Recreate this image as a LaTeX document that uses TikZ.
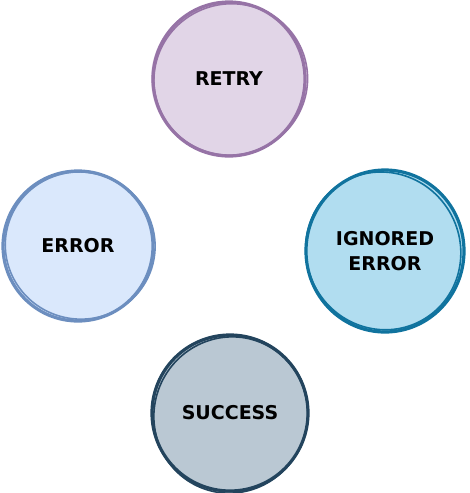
\documentclass[tikz,border=0pt]{standalone}
\usepackage{fontspec}
\setmainfont{DejaVu Sans}
\definecolor{pfill}{HTML}{E1D5E7}\definecolor{pline}{HTML}{9673A6}
\definecolor{bfill}{HTML}{DAE8FC}\definecolor{bline}{HTML}{6C8EBF}
\definecolor{cfill}{HTML}{B1DDF0}\definecolor{cline}{HTML}{10739E}
\definecolor{gfill}{HTML}{BAC8D3}\definecolor{gline}{HTML}{23445D}
\tikzset{
  state/.style={circle,minimum size=#1,inner sep=0pt,align=center,
    font=\bfseries\fontsize{19}{25}\selectfont,text=black},
  sketch/.style={line width=1.6pt},
  mainline/.style={line width=3.2pt},
}
\begin{document}
\begin{tikzpicture}[x=1pt,y=-1pt]
\useasboundingbox (0,0) rectangle (469,493);
% RETRY
\node[state=156pt,fill=pfill] (retry) at (229,79) {RETRY};
\draw[pline,mainline] (retry.center) ellipse [x radius=76,y radius=77];
\draw[pline,sketch,rotate around={20:(retry.center)}] ([xshift=1.5pt,yshift=-1pt]retry.center) ellipse [x radius=77,y radius=75.5];
% ERROR
\node[state=152pt,fill=bfill] (error) at (78,246) {ERROR};
\draw[bline,mainline] (error.center) ellipse [x radius=75,y radius=75];
\draw[bline,sketch,rotate around={-15:(error.center)}] ([xshift=2pt,yshift=1pt]error.center) ellipse [x radius=75,y radius=73.5];
% IGNORED ERROR
\node[state=160pt,fill=cfill] (ignored) at (385,251) {IGNORED\\ERROR};
\draw[cline,mainline] (ignored.center) ellipse [x radius=79,y radius=81];
\draw[cline,sketch,rotate around={30:(ignored.center)}] ([xshift=-1.5pt,yshift=1pt]ignored.center) ellipse [x radius=77,y radius=79.5];
% SUCCESS
\node[state=158pt,fill=gfill] (success) at (230,413) {SUCCESS};
\draw[gline,mainline] (success.center) ellipse [x radius=78,y radius=78];
\draw[gline,sketch,rotate around={-25:(success.center)}] ([xshift=1.5pt,yshift=-1.5pt]success.center) ellipse [x radius=76.5,y radius=78.5];
\end{tikzpicture}
\end{document}
